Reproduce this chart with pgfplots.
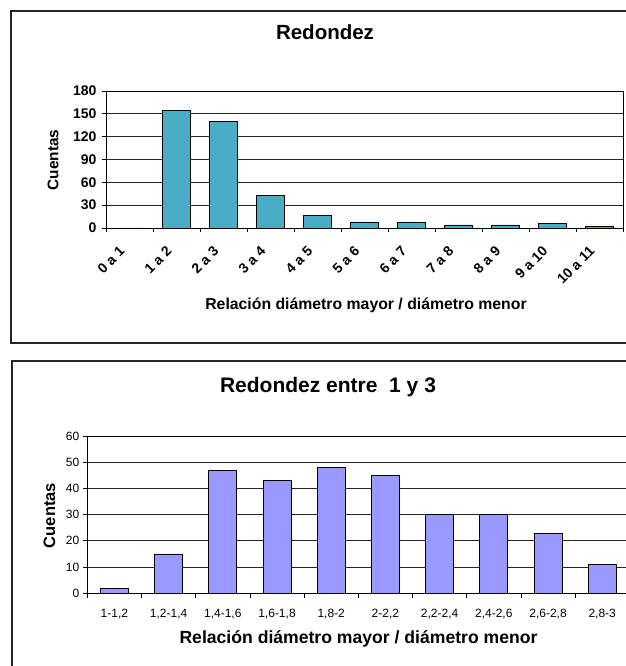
\documentclass[border=0pt]{standalone}
\usepackage{pgfplots}
\pgfplotsset{compat=1.18}
\usepackage{fontspec}
\setmainfont{Liberation Sans}
\definecolor{barA}{RGB}{75,172,198}
\definecolor{barB}{RGB}{153,153,255}
\begin{document}
\begin{tikzpicture}
\useasboundingbox (0,0) rectangle (626bp,666bp);
\clip (0,0) rectangle (626bp,666bp);
\fill[white] (0,0) rectangle (626bp,666bp);
% chart frames
\draw[line width=1.2bp, black!85] (11bp,655bp) rectangle (720bp,323bp);
\draw[line width=1.2bp, black!85] (12bp,305bp) rectangle (720bp,-60bp);

% ---------- top chart ----------
\begin{axis}[
  at={(106bp,438bp)}, anchor=south west,
  scale only axis, width=517bp, height=137bp,
  xmin=-0.5, xmax=10.5, ymin=0, ymax=180,
  ytick={0,30,...,180},
  xtick={-0.5,0.5,...,10.5},
  x tick label as interval,
  xticklabels={0 a 1,1 a 2,2 a 3,3 a 4,4 a 5,5 a 6,6 a 7,7 a 8,8 a 9,9 a 10,10 a 11},
  tick align=outside, xtick pos=bottom, ytick pos=left,
  major tick length=4.5bp,
  ymajorgrids, grid style={black!85,line width=0.8bp},
  axis line style={black, line width=0.8bp},
  tick style={black,line width=0.8bp},
  ticklabel style={font=\fontsize{14bp}{16bp}\selectfont\bfseries},
  yticklabel style={xshift=-1.5bp},
  /pgf/number format/assume math mode=true,
  xticklabel style={xshift=-5bp, yshift=-14bp, rotate=45, anchor=east},
  ybar, bar width=27.3bp,
]
\addplot[fill=barA, draw=black, line width=0.8bp] coordinates {
(0,0) (1,155) (2,140) (3,43) (4,17) (5,8) (6,7) (7,4) (8,4) (9,6) (10,2)};
\end{axis}
\node[font=\fontsize{20.5bp}{24bp}\selectfont\bfseries, anchor=base] at (325bp,626.7bp) {Redondez};
\node[font=\fontsize{15.4bp}{18bp}\selectfont\bfseries, anchor=base, rotate=90] at (58.3bp,506bp) {Cuentas};
\node[font=\fontsize{15.8bp}{18bp}\selectfont\bfseries, anchor=base] at (366bp,356bp) {Relación diámetro mayor / diámetro menor};

% ---------- bottom chart ----------
\begin{axis}[
  at={(87.3bp,72.7bp)}, anchor=south west,
  scale only axis, width=542bp, height=157.3bp,
  xmin=-0.5, xmax=9.5, ymin=0, ymax=60,
  ytick={0,10,...,60},
  xtick={-0.5,0.5,...,9.5},
  x tick label as interval,
  xticklabels={{1-1,2},{1,2-1,4},{1,4-1,6},{1,6-1,8},{1,8-2},{2-2,2},{2,2-2,4},{2,4-2,6},{2,6-2,8},{2,8-3}},
  tick align=outside, xtick pos=bottom, ytick pos=left,
  major tick length=4.5bp,
  ymajorgrids, grid style={black!85,line width=0.8bp},
  axis line style={black, line width=0.8bp},
  tick style={black,line width=0.8bp},
  ticklabel style={font=\fontsize{12bp}{14bp}\selectfont},
  /pgf/number format/assume math mode=true,
  xticklabel style={yshift=-8bp},
  ybar, bar width=28bp,
]
\addplot[fill=barB, draw=black, line width=0.8bp] coordinates {
(0,2) (1,15) (2,47) (3,43) (4,48) (5,45) (6,30) (7,30) (8,23) (9,11)};
\end{axis}
\node[font=\fontsize{21bp}{24bp}\selectfont\bfseries, anchor=base] at (328bp,273.3bp) {Redondez entre\ \ 1 y 3};
\node[font=\fontsize{16.5bp}{19bp}\selectfont\bfseries, anchor=base, rotate=90] at (55bp,150.5bp) {Cuentas};
\node[font=\fontsize{17.6bp}{20bp}\selectfont\bfseries, anchor=base] at (358.5bp,22.7bp) {Relación diámetro mayor / diámetro menor};
\end{tikzpicture}
\end{document}
